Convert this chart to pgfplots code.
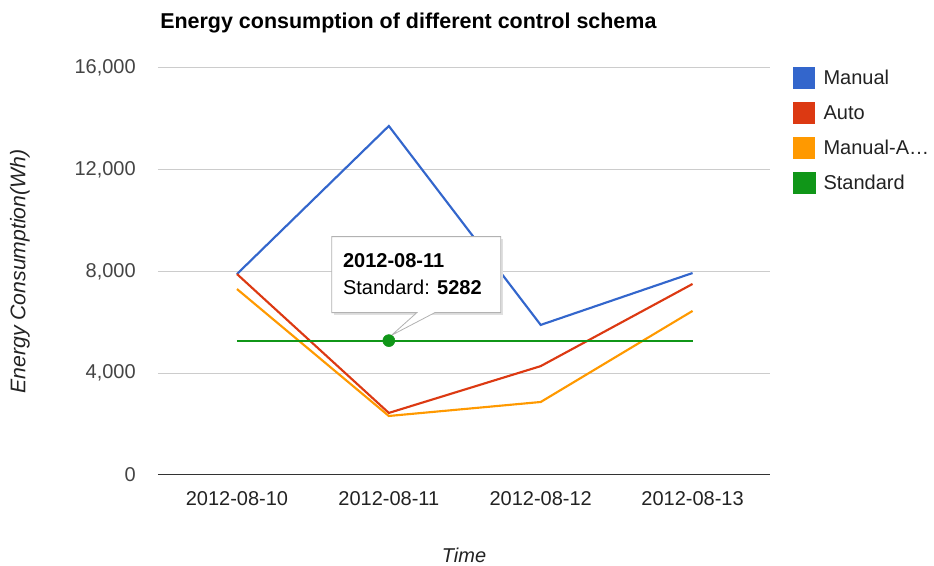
\documentclass[border=0pt]{standalone}
\usepackage{pgfplots}
\pgfplotsset{compat=1.18}
\usepackage{fontspec}
\setmainfont{Liberation Sans}
\definecolor{mblue}{HTML}{3366CC}
\definecolor{mred}{HTML}{DC3912}
\definecolor{morange}{HTML}{FF9900}
\definecolor{mgreen}{HTML}{109618}
\definecolor{gridc}{HTML}{CCCCCC}
\definecolor{txt}{HTML}{222222}
\definecolor{ticktxt}{HTML}{444444}
\begin{document}
\begin{tikzpicture}[font=\fontsize{15}{18}\selectfont]
\begin{axis}[
  scale only axis,
  width=459pt, height=305.25pt,
  xmin=-0.52, xmax=3.51,
  ymin=0, ymax=16000,
  xtick={0,1,2,3},
  xticklabels={2012-08-10,2012-08-11,2012-08-12,2012-08-13},
  ytick={0,4000,8000,12000,16000},
  scaled y ticks=false,
  /pgf/number format/.cd, 1000 sep={,}, assume math mode=true,
  /pgfplots/.cd,
  major tick length=0pt,
  axis line style={draw=none},
  ymajorgrids,
  grid style={gridc, line width=0.75pt},
  yticklabel style={anchor=east, inner sep=0pt, xshift=-16.5pt, text=ticktxt},
  xticklabel style={anchor=north, inner sep=0pt, yshift=-12pt, text=txt},
  legend style={at={(rel axis cs:1,1)}, anchor=north west, xshift=17.25pt, yshift=5.6pt,
    draw=none, fill=none, inner sep=0pt, row sep=0pt, column sep=6pt,
    nodes={minimum height=26.25pt, inner sep=0pt, text=txt},
    font=\fontsize{15}{18}\selectfont},
  legend cell align=left,
  legend columns=1,
]
\draw[color=black!80, line width=1.1pt] (rel axis cs:0,0) -- (rel axis cs:1,0);
\addplot[mblue, line width=1.6pt,
  legend image code/.code={\fill[mblue] (0pt,-7.5pt) rectangle (15pt,7.5pt);}]
  coordinates {(0,7900) (1,13720) (2,5900) (3,7940)};
\addlegendentry{Manual}
\addplot[mred, line width=1.6pt,
  legend image code/.code={\fill[mred] (0pt,-7.5pt) rectangle (15pt,7.5pt);}]
  coordinates {(0,7900) (1,2440) (2,4280) (3,7510)};
\addlegendentry{Auto}
\addplot[morange, line width=1.6pt,
  legend image code/.code={\fill[morange] (0pt,-7.5pt) rectangle (15pt,7.5pt);}]
  coordinates {(0,7310) (1,2320) (2,2870) (3,6450)};
\addlegendentry{Manual-A…}
\addplot[mgreen, line width=1.7pt,
  legend image code/.code={\fill[mgreen] (0pt,-7.5pt) rectangle (15pt,7.5pt);}]
  coordinates {(0,5282) (1,5282) (2,5282) (3,5282)};
\addlegendentry{Standard}
% tooltip
\begin{scope}[shift={(axis cs:1,5282)}]
  \fill[black!12] (-41.25pt,19.5pt) -- (-41.25pt,76.5pt) -- (85.5pt,76.5pt) -- (85.5pt,19.5pt) -- cycle;
  \filldraw[fill=white, draw=black!30, line width=0.6pt]
    (-42.75pt,21pt) -- (-42.75pt,78pt) -- (84pt,78pt) -- (84pt,21pt) -- (34.5pt,21pt) -- (2pt,4pt) -- (21pt,21pt) -- cycle;
  \node[anchor=base west, inner sep=0pt, text=black] at (-34.5pt,54.75pt) {\bfseries 2012-08-11};
  \node[anchor=base west, inner sep=0pt, text=black] at (-34.5pt,34.5pt) {Standard: {\bfseries 5282}};
\end{scope}
\addplot[mgreen, only marks, mark=*, mark size=4.5pt, forget plot] coordinates {(1,5282)};
\coordinate (O) at (rel axis cs:0,0);
\coordinate (TL) at (rel axis cs:0,1);
\coordinate (ML) at (rel axis cs:0,0.5);
\coordinate (BM) at (rel axis cs:0.5,0);
\end{axis}
\node[anchor=base west, inner sep=0pt, text=black, font=\fontsize{16.1}{19}\selectfont] at ([xshift=1.5pt,yshift=29.25pt]TL) {\bfseries Energy consumption of different control schema};
\node[rotate=90, inner sep=0pt, text=txt, font=\fontsize{15.9}{19}\selectfont] at ([xshift=-103.5pt]ML) {\itshape Energy Consumption(Wh)};
\node[inner sep=0pt, text=txt] at ([yshift=-60pt]BM) {\itshape Time};
\path[use as bounding box] ([xshift=-118.5pt,yshift=-68.25pt]O) rectangle ([xshift=582pt,yshift=356.25pt]O);
\end{tikzpicture}
\end{document}
